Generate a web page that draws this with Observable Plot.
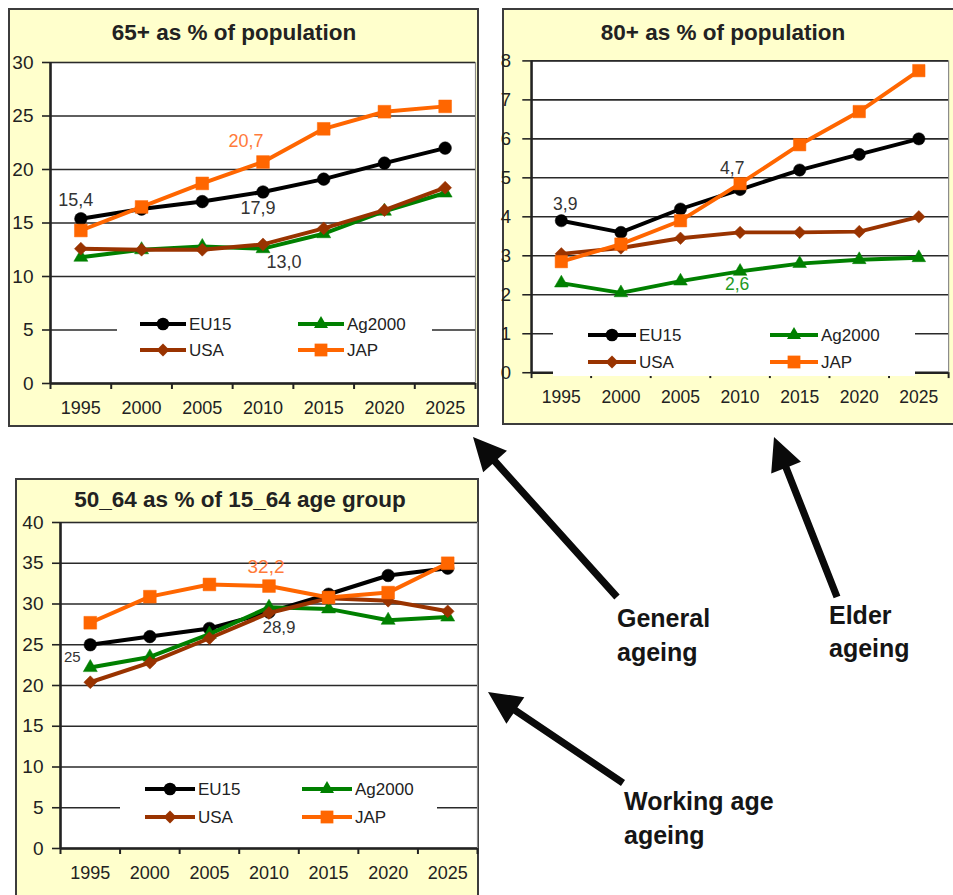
<!DOCTYPE html>
<html><head><meta charset="utf-8">
<script src="https://cdn.jsdelivr.net/npm/d3@7"></script>
<script src="https://cdn.jsdelivr.net/npm/@observablehq/plot@0.6"></script>
<style>
html,body{margin:0;padding:0;background:#fff;width:953px;height:895px;overflow:hidden;position:relative;font-family:"Liberation Sans",Arial,sans-serif;}
.panel{position:absolute;background:#ffffcc;border:2px solid #3c3c3c;box-sizing:border-box;}
.title{position:absolute;font-weight:bold;font-size:22.5px;color:#222;white-space:nowrap;transform:translate(-50%,-50%);}
.plotwrap{position:absolute;}
.legend{position:absolute;background:#fff;}
#overlay{position:absolute;left:0;top:0;}
</style></head><body>
<script>
// ---------- data ----------
const years = [1995, 2000, 2005, 2010, 2015, 2020, 2025];
const seriesNames = ["EU15", "Ag2000", "USA", "JAP"];
const seriesColors = ["#000000", "#008000", "#993300", "#ff6600"];
const seriesSymbols = ["circle", "triangle", "diamond2", "square"];

// 65+ as % of population
const pop65EU15   = [15.4, 16.3, 17.0, 17.9, 19.1, 20.6, 22.0];
const pop65Ag2000 = [11.8, 12.5, 12.8, 12.6, 14.0, 16.1, 17.8];
const pop65USA    = [12.6, 12.5, 12.5, 13.0, 14.5, 16.2, 18.3];
const pop65JAP    = [14.3, 16.5, 18.7, 20.7, 23.8, 25.4, 25.9];
const pop65Ticks  = [0, 5, 10, 15, 20, 25, 30];
const pop65Labels = [
  {series: "EU15", year: 1995, text: "15,4"},
  {series: "EU15", year: 2010, text: "17,9"},
  {series: "USA",  year: 2010, text: "13,0"},
  {series: "JAP",  year: 2010, text: "20,7"}
];

// 80+ as % of population
const pop80EU15   = [3.9, 3.6, 4.2, 4.7, 5.2, 5.6, 6.0];
const pop80Ag2000 = [2.3, 2.05, 2.35, 2.6, 2.8, 2.9, 2.95];
const pop80USA    = [3.05, 3.2, 3.45, 3.6, 3.6, 3.62, 4.0];
const pop80JAP    = [2.85, 3.3, 3.9, 4.85, 5.85, 6.7, 7.75];
const pop80Ticks  = [0, 1, 2, 3, 4, 5, 6, 7, 8];
const pop80Labels = [
  {series: "EU15",   year: 1995, text: "3,9"},
  {series: "EU15",   year: 2010, text: "4,7"},
  {series: "Ag2000", year: 2010, text: "2,6"}
];

// 50_64 as % of 15_64 age group
const work5064EU15   = [25.0, 26.0, 27.0, 29.0, 31.2, 33.5, 34.4];
const work5064Ag2000 = [22.2, 23.5, 26.3, 29.6, 29.4, 28.0, 28.4];
const work5064USA    = [20.4, 22.8, 25.8, 28.9, 30.7, 30.4, 29.1];
const work5064JAP    = [27.7, 30.9, 32.4, 32.2, 30.8, 31.4, 35.0];
const work5064Ticks  = [0, 5, 10, 15, 20, 25, 30, 35, 40];
const work5064Labels = [
  {series: "EU15", year: 1995, text: "25"},
  {series: "USA",  year: 2010, text: "28,9"},
  {series: "JAP",  year: 2010, text: "32,2"}
];

const titles = ["65+ as % of population", "80+ as % of population", "50_64 as % of 15_64 age group"];
const notes = [["General", "ageing"], ["Elder", "ageing"], ["Working age", "ageing"]];

// ---------- styling ----------
const FONT = "Liberation Sans, Arial, sans-serif";
const symbolR = [6.3, 5.2, 5.8, 7.2];
const labelGray = "#333";
const labelOrange = "#ff7a3a";

function labelColor(series) {
  if (series === "JAP") return labelOrange;
  if (series === "Ag2000") return "#1f9a1f";
  return labelGray;
}

function makePanel(cfg) {
  const values = cfg.values;
  const data = [];
  values.forEach((vals, k) => vals.forEach((v, i) => data.push({series: seriesNames[k], year: years[i], value: v})));
  const x0 = years[0] - 2.5, x1 = years[years.length - 1] + 2.5;
  const bounds = years.map(d => d - 2.5).concat([x1]);
  const ymax = cfg.ticks[cfg.ticks.length - 1];

  const marks = [
    Plot.frame({fill: "#fff", stroke: "#8a8a8a", strokeWidth: 1.2}),
    Plot.ruleY(cfg.ticks, {stroke: "#2a2a2a", strokeWidth: 1.6}),
    Plot.ruleY([cfg.ticks[0]], {stroke: "#222", strokeWidth: 2.6}),
    Plot.ruleX([x0], {stroke: "#222", strokeWidth: 2.6}),
    Plot.axisY({ticks: cfg.ticks, label: null, tickSize: cfg.tickSizeY, tickPadding: cfg.tickPadY, tickFormat: d => String(d), fontSize: 19, strokeWidth: 1.6}),
    Plot.axisX({ticks: bounds, label: null, tickSize: 6, tickFormat: () => "", strokeWidth: 2}),
    Plot.axisX({ticks: years, label: null, tickSize: 0, tickPadding: 18, tickFormat: d => String(d), fontSize: 18})
  ];
  seriesNames.forEach((name, k) => {
    const sd = data.filter(d => d.series === name);
    marks.push(Plot.line(sd, {x: "year", y: "value", stroke: seriesColors[k], strokeWidth: 4}));
    marks.push(Plot.dot(sd, {x: "year", y: "value", symbol: () => seriesSymbols[k], fill: seriesColors[k], stroke: seriesColors[k], strokeWidth: 0.5, r: symbolR[k]}));
  });
  cfg.labels.forEach((l, i) => {
    const k = seriesNames.indexOf(l.series);
    const v = values[k][years.indexOf(l.year)];
    const off = cfg.labelOffsets[i];
    marks.push(Plot.text([{year: l.year, value: v, text: l.text}], {
      x: "year", y: "value", text: "text", dx: off[0], dy: off[1],
      fill: labelColor(l.series), fontSize: off[2] || 18, textAnchor: "middle", lineAnchor: "middle"
    }));
  });

  const chart = Plot.plot({
    width: cfg.w, height: cfg.h,
    marginLeft: cfg.ml, marginRight: cfg.mr, marginTop: cfg.mt, marginBottom: cfg.mb,
    x: {type: "linear", domain: [x0, x1], axis: null},
    y: {domain: [0, ymax], axis: null},
    symbol: {type: "identity"},
    style: {background: "transparent", overflow: "visible", fontFamily: FONT, color: "#222"},
    marks
  });

  const box = document.createElement("div");
  box.className = "panel";
  Object.assign(box.style, {left: cfg.box[0] + "px", top: cfg.box[1] + "px", width: cfg.box[2] + "px", height: cfg.box[3] + "px"});
  document.body.appendChild(box);

  const wrap = document.createElement("div");
  wrap.className = "plotwrap";
  wrap.style.left = cfg.sx + "px";
  wrap.style.top = cfg.sy + "px";
  wrap.appendChild(chart);
  document.body.appendChild(wrap);

  const t = document.createElement("div");
  t.className = "title";
  t.textContent = cfg.title;
  t.style.left = cfg.titlePos[0] + "px";
  t.style.top = cfg.titlePos[1] + "px";
  document.body.appendChild(t);

  // legend
  const L = cfg.legend;
  const lg = d3.create("svg").attr("width", L.w).attr("height", L.h);
  seriesNames.forEach((name, k) => {
    const col = k % 2, row = Math.floor(k / 2);
    const lx = L.cols[col], ly = L.rows[row];
    const g = lg.append("g");
    g.append("line").attr("x1", lx).attr("x2", lx + L.len).attr("y1", ly).attr("y2", ly)
      .attr("stroke", seriesColors[k]).attr("stroke-width", 4);
    const symType = {circle: d3.symbolCircle, triangle: d3.symbolTriangle, diamond2: d3.symbolDiamond2 || d3.symbolDiamond, square: d3.symbolSquare}[seriesSymbols[k]];
    g.append("path").attr("d", d3.symbol(symType, Math.PI * symbolR[k] * symbolR[k])())
      .attr("transform", `translate(${lx + L.len / 2},${ly})`).attr("fill", seriesColors[k]);
    g.append("text").attr("x", lx + L.len + 3).attr("y", ly).attr("dy", "0.36em")
      .attr("font-family", FONT).attr("font-size", 17).attr("fill", "#222").text(name);
  });
  const ld = document.createElement("div");
  ld.className = "legend";
  Object.assign(ld.style, {left: L.x + "px", top: L.y + "px", width: L.w + "px", height: L.h + "px"});
  ld.appendChild(lg.node());
  document.body.appendChild(ld);
}

makePanel({
  title: titles[0], titlePos: [234, 33],
  values: [pop65EU15, pop65Ag2000, pop65USA, pop65JAP], ticks: pop65Ticks, labels: pop65Labels,
  labelOffsets: [[-5, -18], [-5, 16], [21, 18], [-17, -21]],
  box: [8, 8, 471, 419],
  sx: 0, sy: 0, w: 480, h: 430, ml: 50, mr: 5, mt: 62, mb: 47,
  tickSizeY: 8, tickPadY: 9,
  legend: {x: 117, y: 310, w: 315, h: 54, cols: [23, 181], rows: [14, 40], len: 46}
});

makePanel({
  title: titles[1], titlePos: [723, 33],
  values: [pop80EU15, pop80Ag2000, pop80USA, pop80JAP], ticks: pop80Ticks, labels: pop80Labels,
  labelOffsets: [[4, -17], [-8, -22], [-3, 13]],
  box: [502, 8, 480, 417],
  sx: 495, sy: 0, w: 470, h: 430, ml: 37, mr: 5, mt: 62, mb: 48,
  tickSizeY: 9, tickPadY: 12,
  legend: {x: 553, y: 321, w: 362, h: 55, cols: [35, 217], rows: [14, 41], len: 48}
});

makePanel({
  title: titles[2], titlePos: [240, 500],
  values: [work5064EU15, work5064Ag2000, work5064USA, work5064JAP], ticks: work5064Ticks, labels: work5064Labels,
  labelOffsets: [[-18, 12, 15], [10, 15, 17], [-3, -19, 19]],
  box: [15, 478, 464, 440],
  sx: 0, sy: 470, w: 480, h: 430, ml: 60, mr: 3, mt: 52, mb: 52,
  tickSizeY: 8, tickPadY: 9,
  legend: {x: 120, y: 775, w: 317, h: 56, cols: [25, 182], rows: [14, 42], len: 50}
});

// ---------- annotation arrows & notes ----------
const ov = d3.select("body").append("svg").attr("id", "overlay").attr("width", 953).attr("height", 895);
function arrow(x1, y1, x2, y2) {
  const dx = x2 - x1, dy = y2 - y1, len = Math.hypot(dx, dy);
  const ux = dx / len, uy = dy / len, px = -uy, py = ux;
  const hl = 33, hw = 16, sw = 3.6;
  const bx = x2 - ux * hl, by = y2 - uy * hl;
  const pts = [
    [x1 + px * sw, y1 + py * sw], [bx + px * sw, by + py * sw], [bx + px * hw, by + py * hw],
    [x2, y2],
    [bx - px * hw, by - py * hw], [bx - px * sw, by - py * sw], [x1 - px * sw, y1 - py * sw]
  ];
  ov.append("polygon").attr("points", pts.map(p => p.join(",")).join(" ")).attr("fill", "#0a0a0a");
}
arrow(617, 597, 473, 437);
arrow(837, 597, 774, 437);
arrow(623, 783, 488, 692);

function note(lines, x, y, gap) {
  lines.forEach((s, i) => {
    ov.append("text").attr("x", x).attr("y", y + i * gap).attr("font-family", FONT)
      .attr("font-weight", "bold").attr("font-size", 25).attr("fill", "#151515").text(s);
  });
}
note(notes[0], 617, 627, 34);
note(notes[1], 829, 624, 33);
note(notes[2], 624, 810, 34);
</script>
</body></html>
